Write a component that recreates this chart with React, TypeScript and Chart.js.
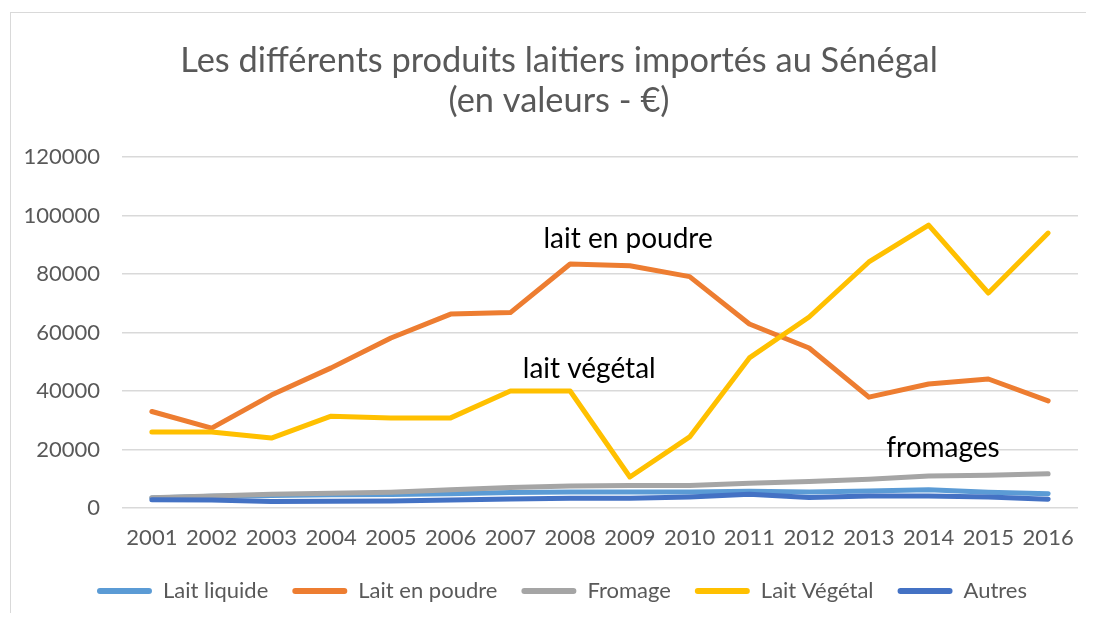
import React, { useEffect, useRef } from "react";
import { Chart, registerables } from "chart.js";

Chart.register(...registerables);

const years = ["2001","2002","2003","2004","2005","2006","2007","2008","2009","2010","2011","2012","2013","2014","2015","2016"];
const laitLiquide = [3400, 4000, 4300, 4500, 4600, 4900, 5300, 5500, 5500, 5500, 5700, 5500, 5800, 6200, 5400, 4900];
const laitPoudre = [33000, 27300, 38600, 47900, 58100, 66300, 66800, 83400, 82800, 79100, 62900, 54700, 37900, 42400, 44100, 36600];
const fromage = [3500, 4100, 4700, 5000, 5400, 6200, 7000, 7500, 7700, 7700, 8500, 9100, 9800, 10900, 11200, 11700];
const laitVegetal = [26000, 26000, 23900, 31400, 30800, 30800, 40000, 40000, 10600, 24300, 51300, 65300, 84100, 96700, 73500, 94000];
const autres = [2800, 2700, 2200, 2300, 2400, 2700, 3100, 3300, 3300, 3800, 4700, 3600, 4100, 4100, 3800, 3000];

const seriesNames = ["Lait liquide", "Lait en poudre", "Fromage", "Lait Végétal", "Autres"];
const seriesColors = ["#5B9BD5", "#ED7D31", "#A5A5A5", "#FFC000", "#4472C4"];
const seriesValues = [laitLiquide, laitPoudre, fromage, laitVegetal, autres];

const titleLines = ["Les différents produits laitiers importés au Sénégal", "(en valeurs - €)"];
const yTicks = [0, 20000, 40000, 60000, 80000, 100000, 120000];

// text notes placed at (category index, value) on the chart
const noteTexts = ["lait en poudre", "lait végétal", "fromages"];
const noteIndex = [7.97, 7.32, 13.24];
const noteValues = [88900, 44400, 17600];

const FONT = "Lato, 'Open Sans', sans-serif";

const notesPlugin = {
  id: "notes",
  afterDatasetsDraw(chart: any) {
    const { ctx, scales } = chart;
    const xs = scales.x;
    const ys = scales.y;
    ctx.save();
    ctx.font = `28px ${FONT}`;
    ctx.fillStyle = "#000000";
    ctx.textAlign = "center";
    ctx.textBaseline = "alphabetic";
    noteTexts.forEach((t, i) => {
      ctx.fillText(t, xs.getPixelForValue(noteIndex[i]), ys.getPixelForValue(noteValues[i]));
    });
    ctx.restore();
  },
};

// shift title and legend horizontally to match the reference centring
const shiftPlugin = {
  id: "shiftBoxes",
  afterLayout(chart: any) {
    const t = chart.titleBlock;
    if (t) { t.left += 16; t.right += 16; }
    const l = chart.legend;
    if (l) {
      l.left += 19; l.right += 19;
    }
  },
};

export default function App() {
  const ref = useRef<HTMLCanvasElement | null>(null);
  useEffect(() => {
    if (!ref.current) return;
    const chart = new Chart(ref.current, {
      type: "line",
      data: {
        labels: years,
        datasets: seriesNames.map((name, i) => ({
          label: name,
          data: seriesValues[i],
          borderColor: seriesColors[i],
          backgroundColor: seriesColors[i],
          borderWidth: 5,
          borderCapStyle: "round",
          borderJoinStyle: "round",
          pointRadius: 0,
          pointHoverRadius: 0,
          tension: 0,
          fill: false,
          order: seriesNames.length - i,
        })),
      },
      options: {
        animation: false,
        responsive: false,
        maintainAspectRatio: false,
        layout: { padding: { left: 0, right: 16, top: 0, bottom: 1 } },
        plugins: {
          tooltip: { enabled: false },
          title: {
            display: true,
            text: titleLines,
            color: "#595959",
            font: { family: FONT, size: 34.4, weight: "normal", lineHeight: 1.19 },
            padding: { top: 32, bottom: 35.1 },
          },
          legend: {
            position: "bottom",
            labels: {
              color: "#595959",
              font: { family: FONT, size: 22 },
              boxWidth: 55,
              boxHeight: 6,
              padding: 24,
              useBorderRadius: true,
              borderRadius: 3,
              sort: (a: any, b: any) => a.datasetIndex - b.datasetIndex,
              generateLabels: (chart: any) =>
                chart.data.datasets.map((ds: any, i: number) => ({
                  text: ds.label,
                  fillStyle: ds.borderColor,
                  strokeStyle: ds.borderColor,
                  lineWidth: 0,
                  fontColor: "#595959",
                  hidden: false,
                  datasetIndex: i,
                  borderRadius: 3,
                })),
            },
          },
        },
        scales: {
          x: {
            offset: true,
            grid: { display: false, drawTicks: false },
            border: { display: false },
            ticks: {
              color: "#595959",
              font: { family: FONT, size: 22 },
              padding: 17,
              maxRotation: 0,
              autoSkip: false,
            },
            afterFit: (s: any) => { s.height = 48; },
          },
          y: {
            min: 0,
            max: 120000,
            afterBuildTicks: (s: any) => { s.ticks = yTicks.map((v) => ({ value: v })); },
            grid: { color: "#D9D9D9", lineWidth: 1.5, drawTicks: false },
            border: { display: false },
            ticks: {
              color: "#595959",
              font: { family: FONT, size: 22 },
              padding: 22,
              callback: (v: any) => String(v),
            },
            afterFit: (s: any) => { s.width = 114; },
          },
        },
      },
      plugins: [notesPlugin, shiftPlugin],
    });
    return () => chart.destroy();
  }, []);

  return (
    <div style={{ position: "relative", width: 1086, height: 605, background: "#ffffff" }}>
      <div
        style={{
          position: "absolute",
          left: 2,
          top: 4,
          width: 1100,
          height: 620,
          border: "1.5px solid #D9D9D9",
          boxSizing: "border-box",
          pointerEvents: "none",
        }}
      />
      <canvas ref={ref} width={1086} height={605} style={{ display: "block", position: "relative" }} />
    </div>
  );
}
